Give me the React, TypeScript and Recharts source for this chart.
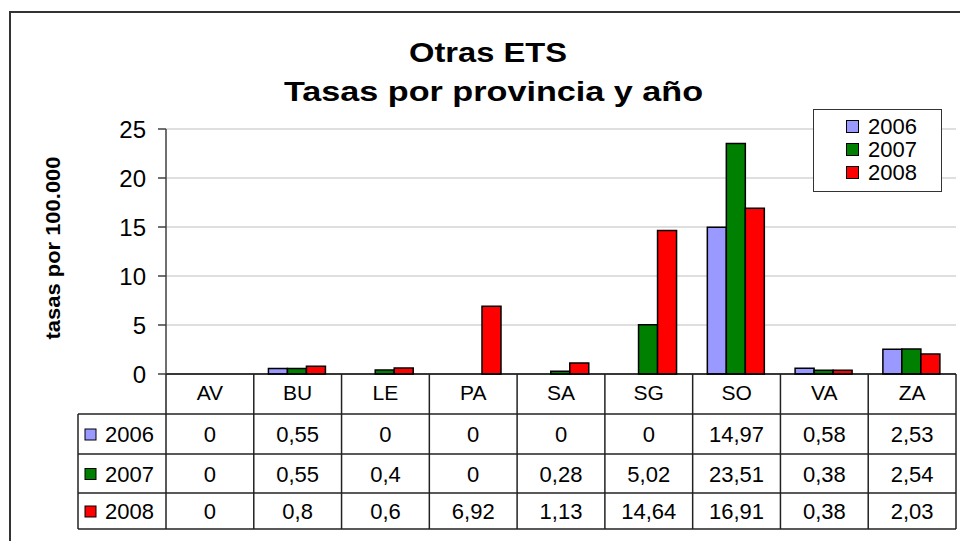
import React from 'react';
import { BarChart, Bar, XAxis, YAxis, CartesianGrid } from 'recharts';

const categories = ['AV', 'BU', 'LE', 'PA', 'SA', 'SG', 'SO', 'VA', 'ZA'];
const years = ['2006', '2007', '2008'];
const values2006 = [0, 0.55, 0, 0, 0, 0, 14.97, 0.58, 2.53];
const values2007 = [0, 0.55, 0.4, 0, 0.28, 5.02, 23.51, 0.38, 2.54];
const values2008 = [0, 0.8, 0.6, 6.92, 1.13, 14.64, 16.91, 0.38, 2.03];
const yTicks = [0, 5, 10, 15, 20, 25];
const colors = ['#9999FF', '#008000', '#FF0000'];
const titleLines = ['Otras ETS', 'Tasas por provincia y año'];
const yLabel = 'tasas por 100.000';

const series = [values2006, values2007, values2008];
const data = categories.map((c, i) => ({
  cat: c,
  y2006: values2006[i],
  y2007: values2007[i],
  y2008: values2008[i],
}));

const W = 960;
const H = 541;
const PLOT_LEFT = 166;
const PLOT_RIGHT = 956;
const PLOT_TOP = 129;
const PLOT_BOTTOM = 374;
const YAXIS_W = 60;
const HEADER_BOTTOM = 414;
const ROW_LINES = [414, 454, 493, 529];
const TABLE_LEFT = 78;
const FONT = '"Liberation Sans", Arial, sans-serif';
const LINE = '#222';

const fmt = (v: number) => String(v).replace('.', ',');

const TableTick = (props: any) => {
  const { x, payload } = props;
  const i = typeof props.index === 'number' ? props.index : categories.indexOf(payload.value);
  const colW = (PLOT_RIGHT - PLOT_LEFT) / categories.length;
  const left = x - colW / 2;
  const right = x + colW / 2;
  const tableBottom = ROW_LINES[ROW_LINES.length - 1];
  return (
    <g>
      <line x1={left} x2={left} y1={PLOT_BOTTOM} y2={tableBottom} stroke={LINE} strokeWidth={1.5} />
      {i === categories.length - 1 && (
        <line x1={right} x2={right} y1={PLOT_BOTTOM} y2={tableBottom} stroke={LINE} strokeWidth={1.5} />
      )}
      <text x={x} y={400} textAnchor="middle" fontSize={21} fontFamily={FONT} fill="#000">
        {payload.value}
      </text>
      {series.map((s, r) => (
        <text
          key={r}
          x={x}
          y={(ROW_LINES[r] + ROW_LINES[r + 1]) / 2 + 8}
          textAnchor="middle"
          fontSize={22}
          fontFamily={FONT}
          fill="#000"
        >
          {fmt(s[i])}
        </text>
      ))}
      {i === 0 && (
        <g>
          {ROW_LINES.map((yy, k) => (
            <line key={k} x1={TABLE_LEFT} x2={PLOT_RIGHT} y1={yy} y2={yy} stroke={LINE} strokeWidth={1.5} />
          ))}
          <line x1={TABLE_LEFT} x2={TABLE_LEFT} y1={ROW_LINES[0]} y2={tableBottom} stroke={LINE} strokeWidth={1.5} />
          {years.map((yr, r) => {
            const cy = (ROW_LINES[r] + ROW_LINES[r + 1]) / 2;
            return (
              <g key={yr}>
                <rect x={85} y={cy - 5} width={11} height={11} fill={colors[r]} stroke="#000" strokeWidth={1} />
                <text x={105} y={cy + 8} fontSize={22} fontFamily={FONT} fill="#000">
                  {yr}
                </text>
              </g>
            );
          })}
        </g>
      )}
    </g>
  );
};

export default function App() {
  return (
    <div style={{ position: 'absolute', left: 0, top: 0, width: W, height: H, background: '#fff', fontFamily: FONT }}>
      <BarChart
        width={W}
        height={H}
        data={data}
        margin={{ top: PLOT_TOP, right: W - PLOT_RIGHT, left: PLOT_LEFT - YAXIS_W, bottom: H - HEADER_BOTTOM }}
        barGap={0}
        barCategoryGap="16.7%"
      >
        <CartesianGrid vertical={false} stroke="#c0c0c0" strokeWidth={1.2} />
        <XAxis
          dataKey="cat"
          height={HEADER_BOTTOM - PLOT_BOTTOM}
          interval={0}
          tickLine={false}
          axisLine={{ stroke: '#000', strokeWidth: 1.5 }}
          tick={<TableTick />}
        />
        <YAxis
          width={YAXIS_W}
          domain={[0, 25]}
          ticks={yTicks}
          interval={0}
          tickSize={8}
          tickMargin={12}
          axisLine={{ stroke: '#404040', strokeWidth: 1.5 }}
          tickLine={{ stroke: '#404040', strokeWidth: 1.5 }}
          tick={{ fontSize: 24, fill: '#000', fontFamily: FONT }}
        />
        <Bar dataKey="y2006" name="2006" fill={colors[0]} stroke="#000" strokeWidth={1.5} isAnimationActive={false} />
        <Bar dataKey="y2007" name="2007" fill={colors[1]} stroke="#000" strokeWidth={1.5} isAnimationActive={false} />
        <Bar dataKey="y2008" name="2008" fill={colors[2]} stroke="#000" strokeWidth={1.5} isAnimationActive={false} />
      </BarChart>
      <svg
        width={W}
        height={H}
        style={{ position: 'absolute', left: 0, top: 0, pointerEvents: 'none' }}
      >
        <path d={`M10,${H + 5} L10,12 L${W + 5},12`} fill="none" stroke="#333" strokeWidth={2} />
        <text x={488} y={62} textAnchor="middle" fontSize={27} fontWeight="bold" fontFamily={FONT} textLength={158} lengthAdjust="spacingAndGlyphs">
          {titleLines[0]}
        </text>
        <text x={493.5} y={101} textAnchor="middle" fontSize={27} fontWeight="bold" fontFamily={FONT} textLength={419} lengthAdjust="spacingAndGlyphs">
          {titleLines[1]}
        </text>
        <g transform="translate(60,248) rotate(-90)">
          <text x={0} y={0} textAnchor="middle" fontSize={21} fontWeight="bold" fontFamily={FONT} textLength={183} lengthAdjust="spacingAndGlyphs">
            {yLabel}
          </text>
        </g>
      </svg>
      <div
        style={{
          position: 'absolute',
          left: 813,
          top: 109,
          width: 127,
          height: 81,
          border: '1px solid #333',
          background: '#fff',
          boxSizing: 'content-box',
        }}
      >
        {years.map((yr, r) => (
          <div key={yr} style={{ position: 'absolute', left: 32, top: 5 + r * 23, height: 23, display: 'flex', alignItems: 'center' }}>
            <div style={{ width: 11, height: 11, background: colors[r], border: '1px solid #000', marginRight: 9 }} />
            <span style={{ fontSize: 22, lineHeight: '23px', color: '#000' }}>{yr}</span>
          </div>
        ))}
      </div>
    </div>
  );
}
